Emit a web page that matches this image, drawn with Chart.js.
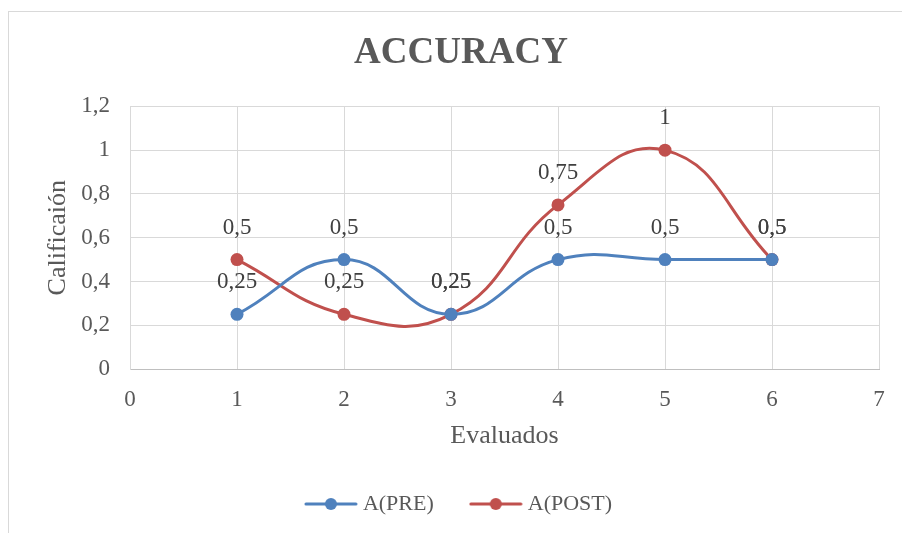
<!DOCTYPE html>
<html>
<head>
<meta charset="utf-8">
<script src="https://cdn.jsdelivr.net/npm/chart.js@4"></script>
<style>
  html, body { margin: 0; padding: 0; background: #fff; }
  #wrap { width: 902px; height: 533px; }
</style>
</head>
<body>
<div id="wrap"><canvas id="chart" width="902" height="533"></canvas></div>
<script>
// data
const evaluados = [1, 2, 3, 4, 5, 6];
const preValues = [0.25, 0.5, 0.25, 0.5, 0.5, 0.5];
const postValues = [0.5, 0.25, 0.25, 0.75, 1, 0.5];
const seriesNames = ['A(PRE)', 'A(POST)'];
const yTicks = [0, 0.2, 0.4, 0.6, 0.8, 1, 1.2];

const blue = '#4f81bd';
const red = '#c0504d';
const textColor = '#595959';
const gridColor = '#d9d9d9';
const serif = '"Liberation Serif", "Times New Roman", serif';

function fmt(v) {
    return String(v).replace('.', ',');
}

// little line + dot used as legend marker
function legendMarker(color) {
    const c = document.createElement('canvas');
    c.width = 54; c.height = 16;
    const g = c.getContext('2d');
    g.strokeStyle = color;
    g.lineWidth = 3;
    g.lineCap = 'round';
    g.beginPath();
    g.moveTo(2, 8); g.lineTo(52, 8);
    g.stroke();
    g.fillStyle = color;
    g.beginPath();
    g.arc(27, 8, 6, 0, Math.PI * 2);
    g.fill();
    return c;
}

const frame = {
    id: 'frame',
    beforeDraw(chart) {
        const ctx = chart.ctx;
        ctx.save();
        ctx.strokeStyle = gridColor;
        ctx.lineWidth = 1;
        ctx.strokeRect(8.5, 11.5, 1000, 1000);
        ctx.restore();
    }
};

const valueLabels = {
    id: 'valueLabels',
    afterDatasetsDraw(chart) {
        const ctx = chart.ctx;
        ctx.save();
        ctx.font = '23px ' + serif;
        ctx.fillStyle = '#404040';
        ctx.textAlign = 'center';
        ctx.textBaseline = 'middle';
        chart.data.datasets.forEach((ds, i) => {
            chart.getDatasetMeta(i).data.forEach((pt, j) => {
                ctx.fillText(fmt(ds.data[j].y), pt.x, pt.y - 32);
            });
        });
        ctx.restore();
    }
};

const toPoints = vals => evaluados.map((x, i) => ({ x: x, y: vals[i] }));

new Chart(document.getElementById('chart'), {
    type: 'line',
    data: {
        datasets: [
            {
                label: seriesNames[0],
                data: toPoints(preValues),
                borderColor: blue,
                backgroundColor: blue,
                borderWidth: 3,
                pointRadius: 6.5,
                pointBorderWidth: 0,
                tension: 0.45
            },
            {
                label: seriesNames[1],
                data: toPoints(postValues),
                borderColor: red,
                backgroundColor: red,
                borderWidth: 3,
                pointRadius: 6.5,
                pointBorderWidth: 0,
                tension: 0.45
            }
        ]
    },
    options: {
        responsive: false,
        animation: false,
        layout: { padding: { left: 43, right: 23, top: 0, bottom: 8 } },
        plugins: {
            title: {
                display: true,
                text: 'ACCURACY',
                color: textColor,
                font: { family: serif, size: 37, weight: 'bold', lineHeight: 1.2 },
                padding: { top: 31, bottom: 31 }
            },
            legend: {
                position: 'bottom',
                labels: {
                    color: textColor,
                    font: { family: serif, size: 22 },
                    usePointStyle: true,
                    pointStyleWidth: 42,
                    boxHeight: 16,
                    padding: 41,
                    generateLabels(chart) {
                        return chart.data.datasets.map((ds, i) => ({
                            text: ds.label,
                            pointStyle: legendMarker(ds.borderColor),
                            fillStyle: ds.borderColor,
                            strokeStyle: ds.borderColor,
                            lineWidth: 0,
                            fontColor: textColor,
                            datasetIndex: i
                        }));
                    }
                }
            },
            tooltip: { enabled: false }
        },
        scales: {
            x: {
                type: 'linear',
                min: 0,
                max: 7,
                ticks: {
                    stepSize: 1,
                    color: textColor,
                    font: { family: serif, size: 23 },
                    padding: 17
                },
                grid: { color: gridColor, drawTicks: false },
                border: { color: '#bfbfbf' },
                title: {
                    display: true,
                    text: 'Evaluados',
                    color: textColor,
                    font: { family: serif, size: 26 },
                    padding: { top: 0, bottom: 0 }
                },
                afterFit(scale) { scale.height = 83; }
            },
            y: {
                min: 0,
                max: 1.2,
                afterBuildTicks(scale) {
                    scale.ticks = yTicks.map(v => ({ value: v }));
                },
                ticks: {
                    color: textColor,
                    font: { family: serif, size: 23 },
                    padding: 20,
                    callback: v => fmt(Math.round(v * 10) / 10)
                },
                grid: { color: gridColor, drawTicks: false },
                border: { color: gridColor },
                title: {
                    display: true,
                    text: 'Calificaión',
                    color: textColor,
                    font: { family: serif, size: 26 },
                    padding: { top: 0, bottom: 0 }
                },
                afterFit(scale) { scale.width = 87; }
            }
        }
    },
    plugins: [frame, valueLabels]
});
</script>
</body>
</html>
